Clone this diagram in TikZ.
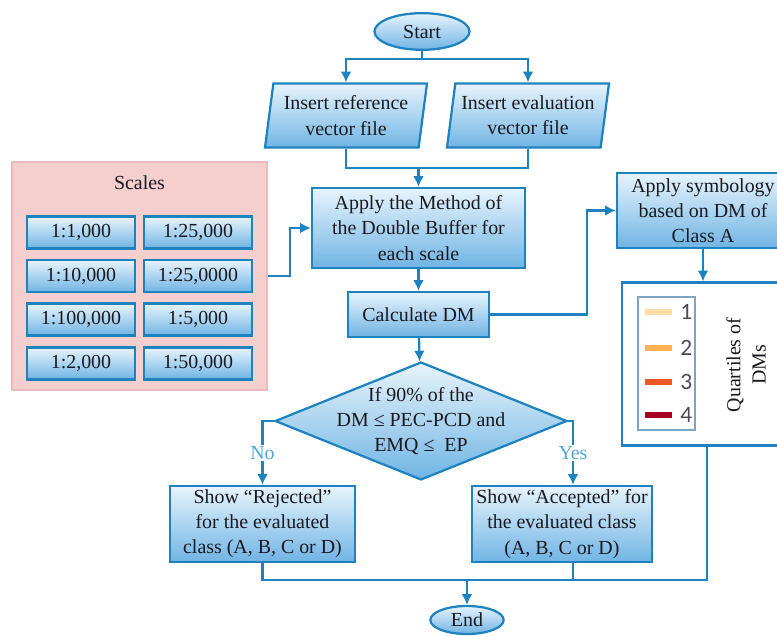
\documentclass[tikz,border=0pt]{standalone}
\usepackage{fontspec}
\setmainfont{Liberation Serif}
\newfontfamily\legendfont{Carlito}
\usetikzlibrary{shapes.geometric, arrows.meta}
\definecolor{flowline}{RGB}{30,130,190}
\definecolor{boxtop}{RGB}{232,244,252}
\definecolor{boxbot}{RGB}{112,180,228}
\definecolor{panelpink}{RGB}{245,206,206}
\definecolor{paneledge}{RGB}{236,186,186}
\definecolor{labelblue}{RGB}{80,165,215}
\definecolor{textdark}{RGB}{25,25,32}
\definecolor{legendedge}{RGB}{125,165,195}
\definecolor{qone}{RGB}{253,222,165}
\definecolor{qtwo}{RGB}{252,178,80}
\definecolor{qthree}{RGB}{240,88,40}
\definecolor{qfour}{RGB}{168,0,35}
\begin{document}
\begin{tikzpicture}[x=0.03cm, y=-0.03cm, >={Latex[length=3.2mm, width=3.2mm]},
		every node/.style={font=\fontsize{17}{21.5}\selectfont, text=textdark},
		proc/.style={rectangle, draw=flowline, line width=1.9pt, top color=boxtop,
			bottom color=boxbot, align=center, inner sep=0pt},
		io/.style={trapezium, trapezium left angle=78, trapezium right angle=102,
			trapezium stretches body, draw=flowline, line width=1.9pt, top color=boxtop,
			bottom color=boxbot, align=center, inner sep=0pt,
			minimum width=4.86cm, minimum height=1.92cm},
		term/.style={ellipse, draw=flowline, line width=1.9pt, top color=boxtop,
			bottom color=boxbot, inner sep=0pt},
		scalebox/.style={proc, minimum width=3.24cm, minimum height=0.96cm},
		flow/.style={draw=flowline, line width=1.9pt}]
	\useasboundingbox (0,0) rectangle (777,635);
	\clip (0,0) rectangle (777,635);
	% terminals and input files
	\node[term, minimum width=2.85cm, minimum height=1.1cm] (start) at (422,31.5) {Start};
	\node[io] (refin) at (346,115.5) {Insert reference\\vector file};
	\node[io] (evalin) at (528,115.5) {Insert evaluation\\vector file};
	\coordinate (split) at (422,59);
	\coordinate (merge) at (418.5,168);
	% scales panel
	\node[rectangle, fill=panelpink, draw=paneledge, line width=1.5pt,
		minimum width=7.65cm, minimum height=6.84cm] (scales) at (139.5,276) {};
	\node (scalestitle) at (139.5,183) {Scales};
	\foreach \lab/\px/\py [count=\k] in {{1:1,000}/81/232.5, {1:25,000}/198/232.5,
		{1:10,000}/81/276, {1:25,0000}/198/276, {1:100,000}/81/319.5,
		{1:5,000}/198/319.5, {1:2,000}/81/363.5, {1:50,000}/198/363.5}
		{
			\node[scalebox] (s\k) at (\px,\py) {\lab};
		}
	% main flow
	\node[proc, minimum width=6.39cm, minimum height=2.4cm] (method) at (418.5,228)
		{Apply the Method of\\the Double Buffer for\\each scale};
	\node[proc, minimum width=4.23cm, minimum height=1.35cm] (calc) at (418.5,314.5)
		{Calculate DM};
	\node[diamond, draw=flowline, line width=1.9pt, top color=boxtop, bottom color=boxbot,
		inner sep=0pt, minimum width=8.76cm, minimum height=3.54cm] (dec) at (421,421) {};
	\node[align=center] (dectext) at (dec.center)
		{If 90\% of the\\DM ≤ PEC-PCD and\\EMQ ≤\ \ EP};
	\node[proc, minimum width=5.55cm, minimum height=2.28cm] (rej) at (262.5,524)
		{Show “Rejected”\\for the evaluated\\class (A, B, C or D)};
	\node[proc, minimum width=5.4cm, minimum height=2.28cm] (acc) at (562,524)
		{Show “Accepted” for\\the evaluated class\\(A, B, C or D)};
	\node[term, minimum width=2.2cm, minimum height=0.84cm] (end) at (467,620) {End};
	\coordinate (close) at (467,580);
	% symbology and legend
	\node[proc, minimum width=5.16cm, minimum height=2.25cm] (symb) at (703,210.5)
		{Apply symbology\\based on DM of\\Class A};
	\node[rectangle, draw=flowline, line width=1.9pt, fill=white,
		minimum width=5.1cm, minimum height=4.89cm] (quart) at (707,364) {};
	\node[rectangle, draw=legendedge, line width=0.9pt,
		minimum width=1.71cm, minimum height=3.99cm] (legend) at (666.5,363.5) {};
	\foreach \q/\col/\yy in {1/qone/312, 2/qtwo/348, 3/qthree/382, 4/qfour/415}
		{
			\node[rectangle, fill=\col, inner sep=0pt, minimum width=0.81cm,
				minimum height=0.18cm] (bar\q) at (658.5,\yy) {};
			\node[anchor=west, inner sep=0pt, font=\legendfont\fontsize{20}{20}\selectfont,
				text={rgb,255:red,75;green,75;blue,85}] (num\q) at ([xshift=0.24cm]bar\q.east) {\q};
		}
	\node[rotate=90, align=center] (qtext) at (746,365) {Quartiles of\\DMs};
	\coordinate (bendA) at (587,314.5);
	\coordinate (bendB) at (290,228);
	% connectors
	\draw[flow] (start) -- (split);
	\draw[flow, ->] (split) -| (refin);
	\draw[flow, ->] (split) -| (evalin);
	\draw[flow] (refin.south) |- (merge);
	\draw[flow] (evalin.south) |- (merge);
	\draw[flow, ->] (merge) -- (method);
	\draw[flow, ->] (scales.east) -| (bendB) -- (method.west);
	\draw[flow, ->] (method) -- (calc);
	\draw[flow, ->] (calc) -- (dec);
	\draw[flow, ->] (calc.east) -- (bendA) |- (symb.west);
	\draw[flow, ->] (symb) -- (symb |- quart.north);
	\draw[flow, ->] (dec.west) -| node[pos=0.75, fill=white, inner sep=1.5pt,
		text=labelblue] (nolab) {No} (rej.north);
	\draw[flow, ->] (dec.east) -| node[pos=0.75, fill=white, inner sep=1.5pt,
		text=labelblue] (yeslab) {Yes} ([xshift=0.33cm]acc.north);
	\draw[flow] (rej.south) |- (close);
	\draw[flow] ([xshift=0.33cm]acc.south) |- (close);
	\draw[flow] (quart.south) |- (close);
	\draw[flow, ->] (close) -- (end);
\end{tikzpicture}
\end{document}
